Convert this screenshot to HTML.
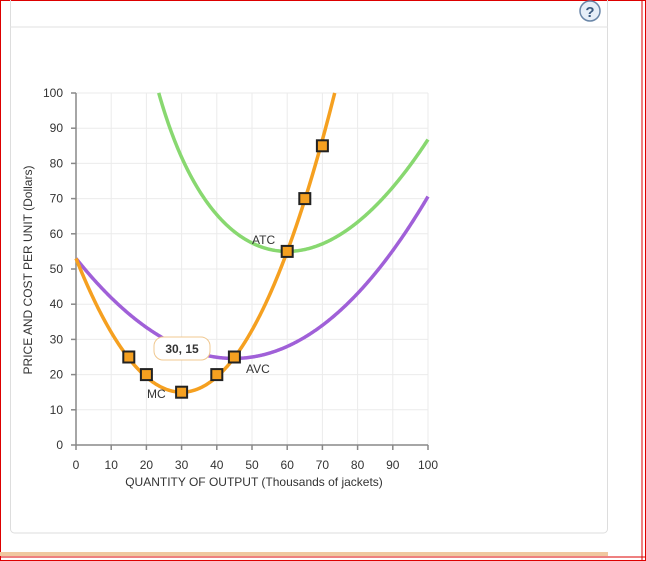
<!DOCTYPE html><html><head><style>
body{margin:0;width:646px;height:561px;overflow:hidden;background:#fff;font-family:"Liberation Sans",sans-serif;}
</style></head><body>
<svg width="646" height="561" viewBox="0 0 646 561" style="position:absolute;left:0;top:0">
<rect x="0.5" y="0.5" width="645" height="560" fill="none" stroke="#d00" stroke-width="1"/>
<line x1="642" y1="0" x2="642" y2="561" stroke="#d00"/>
<line x1="0" y1="557" x2="646" y2="557" stroke="#d00"/>
<rect x="10.5" y="-5" width="597" height="538" rx="4" fill="none" stroke="#ddd"/>
<line x1="10" y1="27" x2="608" y2="27" stroke="#e2e2e2"/>
<rect x="0" y="552" width="608" height="4" fill="#f0c8a0"/>
<circle cx="590" cy="11" r="10" fill="#e6eef8" stroke="#6a86a8" stroke-width="1.5"/>
<text x="590" y="17" font-size="15" text-anchor="middle" fill="#3a5a80" font-weight="bold">?</text>
<g id="grid" stroke="#ebebeb" stroke-width="1"></g>
<line x1="76" y1="93" x2="76" y2="445" stroke="#888" stroke-width="1.5"/>
<line x1="76" y1="445" x2="428" y2="445" stroke="#888" stroke-width="1.5"/>
<g id="ticks" stroke="#888" stroke-width="1.5"></g>
<g id="lbl" font-size="12" fill="#333"></g>
<text x="254" y="486" font-size="12" text-anchor="middle" fill="#333">QUANTITY OF OUTPUT (Thousands of jackets)</text>
<text transform="translate(32,270) rotate(-90)" font-size="12" text-anchor="middle" fill="#333">PRICE AND COST PER UNIT (Dollars)</text>
<path id="atc" fill="none" stroke="#88d870" stroke-width="3.5"/>
<path id="avc" fill="none" stroke="#a060d8" stroke-width="3.5"/>
<path id="mc" fill="none" stroke="#f5a020" stroke-width="3.5"/>
<g id="pts"></g>
<text x="252" y="244" font-size="12" fill="#333">ATC</text>
<text x="246" y="373" font-size="12" fill="#333">AVC</text>
<text x="147" y="398" font-size="12" fill="#333">MC</text>
<rect x="154" y="337" width="56" height="23" rx="9" fill="#fff" stroke="#f0c890"/>
<text x="182" y="353" font-size="12" font-weight="bold" text-anchor="middle" fill="#333">30, 15</text>
</svg>
<script>
const X=q=>76+q*3.52,Y=v=>445-v*3.52;
let g='',t='',l='';
for(let i=1;i<=10;i++){g+=`<line x1="${X(i*10)}" y1="93" x2="${X(i*10)}" y2="445"/><line x1="76" y1="${Y(i*10)}" x2="428" y2="${Y(i*10)}"/>`;}
for(let i=0;i<=10;i++){t+=`<line x1="${X(i*10)}" y1="445" x2="${X(i*10)}" y2="450"/><line x1="71" y1="${Y(i*10)}" x2="76" y2="${Y(i*10)}"/>`;
l+=`<text x="${X(i*10)}" y="469" text-anchor="middle">${i*10}</text><text x="63" y="${Y(i*10)+4}" text-anchor="end">${i*10}</text>`;}
document.getElementById('grid').innerHTML=g;document.getElementById('ticks').innerHTML=t;document.getElementById('lbl').innerHTML=l;
const d=3.7e-5;
const mc=q=>53-2.5*q+0.04*q*q+d*q*q*q;
const avc=q=>53-1.25*q+0.04/3*q*q+d/4*q*q*q;
const atc=q=>avc(q)+1620/q;
function path(f,a,b){let s='';for(let q=a;q<=b+1e-9;q+=0.25){const v=f(q);if(v>100.5){continue;}s+=(s?'L':'M')+X(q).toFixed(2)+','+Y(v).toFixed(2);}return s;}
document.getElementById('mc').setAttribute('d',path(mc,0,80));
document.getElementById('avc').setAttribute('d',path(avc,0,100));
document.getElementById('atc').setAttribute('d',path(atc,20,100));
let p='';[[15,25],[20,20],[30,15],[40,20],[45,25],[60,55],[65,70],[70,85]].forEach(a=>{p+=`<rect x="${X(a[0])-5.5}" y="${Y(a[1])-5.5}" width="11" height="11" fill="#f5a020" stroke="#222" stroke-width="2"/>`});
document.getElementById('pts').innerHTML=p;
</script>
</body></html>
